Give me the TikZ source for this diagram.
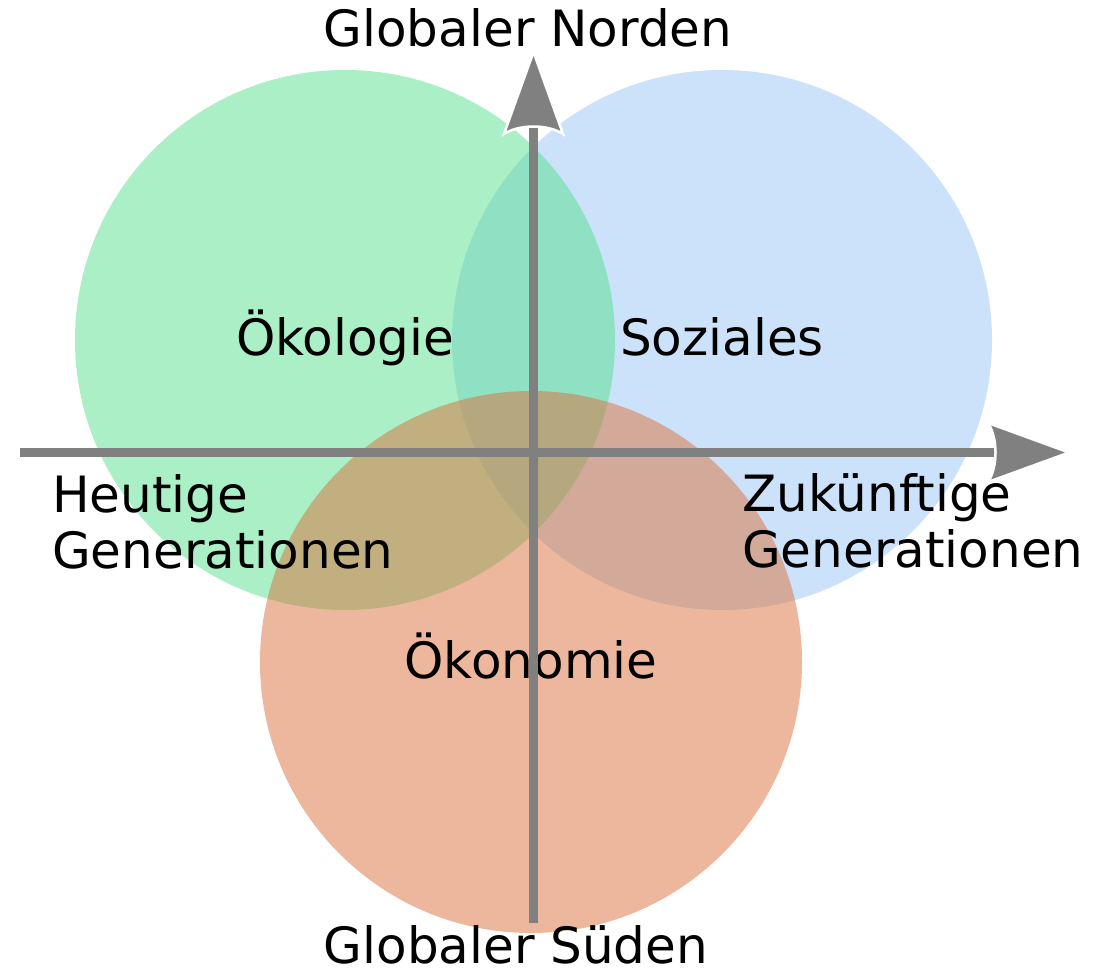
\documentclass[tikz,border=0pt]{standalone}
\usepackage{fontspec}
\setmainfont{DejaVu Sans}
\definecolor{sozblue}{HTML}{99C7F7}
\definecolor{oekogreen}{HTML}{57E18D}
\definecolor{oekonorange}{HTML}{DB713B}
\definecolor{axisgray}{HTML}{808080}
\begin{document}
\begin{tikzpicture}[x=1pt,y=-1pt,
  lbl/.style={font=\fontsize{50}{56}\selectfont, inner sep=0pt, text=black},
  area/.style={fill opacity=0.5},
  axisline/.style={draw=axisgray, line width=9pt, line cap=butt},
  headshape/.style={fill=axisgray, draw=white, line width=2.5pt, line join=miter}]
\useasboundingbox (0,0) rectangle (1099,973);
\fill[white] (0,0) rectangle (1099,973);
% circles
\fill[area, fill=sozblue] (722,340) circle[radius=270pt];
\fill[area, fill=oekogreen] (345,340) circle[radius=270pt];
\fill[area, fill=oekonorange] (531,662) circle[radius=271pt];
% labels
\node[lbl, anchor=base] (oeko) at (345,355) {Ökologie};
\node[lbl, anchor=base] (soz) at (722,355) {Soziales};
\node[lbl, anchor=base] (oekon) at (531,678) {Ökonomie};
\node[lbl, anchor=base] (nord) at (528,47) {Globaler Norden};
\node[lbl, anchor=base] (sued) at (516,963) {Globaler Süden};
\node[lbl, anchor=north west, align=left] (heute) at (52,474.5) {Heutige\\Generationen};
\node[lbl, anchor=north west, align=left] (zukunft) at (742,473) {Zukünftige\\Generationen};
% axes
\coordinate (hstart) at (20,452.5);
\coordinate (hend) at (999,452.5);
\coordinate (vstart) at (533.5,923);
\coordinate (vend) at (533.5,120);
\draw[axisline] (hstart) -- (hend);
\draw[axisline] (vstart) -- (vend);
% arrow heads
\filldraw[headshape] (1069,452.5) -- (988,482) .. controls (998,467) and (998,438) .. (988,423) -- cycle;
\filldraw[headshape] (533.5,52) -- (504,134) .. controls (519,124) and (548,124) .. (563,134) -- cycle;
\end{tikzpicture}
\end{document}
